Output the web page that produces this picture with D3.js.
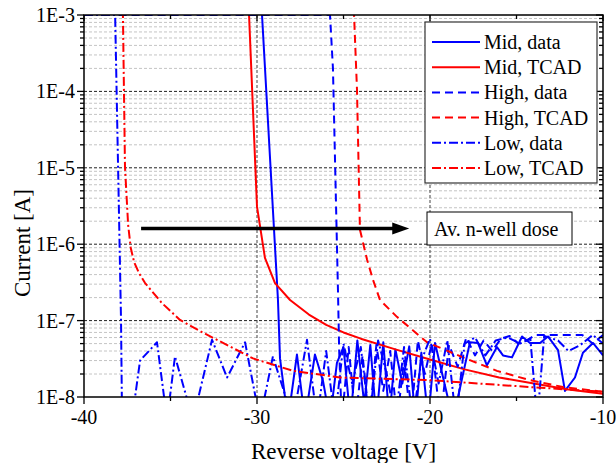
<!DOCTYPE html>
<html><head><meta charset="utf-8">
<script src="https://cdn.jsdelivr.net/npm/d3@7"></script>
<style>body{margin:0;background:#fff}svg{display:block}</style>
</head><body>
<svg id="c" width="616" height="463" font-family="'Liberation Serif', 'Times New Roman', Times, serif"></svg>
<script>
// ---- data ----
const midDataV = [-29.9,-29.71,-28.79,-28.67,-28.21,-27.69,-27.23,-26.65,-26.18,-25.78,-25.38,-25.0,-24.6,-24.2,-23.8,-23.45,-23.1,-22.7,-22.35,-22.0,-21.6,-21.2,-20.85,-20.5,-20.1,-19.71,-18.67,-17.69,-17.23,-16.71,-16.13,-15.78,-15.26,-14.68,-14.22,-13.64,-13.18,-12.6,-12.2,-11.62,-11.16,-10.58,-10.0];
const midDataI = [2e-3,1e-3,1.9e-7,3.2e-8,5e-9,3.6e-8,5e-9,3.6e-8,1.6e-8,5e-9,2.8e-8,4.5e-8,5e-9,5.5e-8,8e-9,4.8e-8,5e-9,5.2e-8,5e-9,4.2e-8,1.5e-8,4.6e-8,5e-9,3.8e-8,5e-9,5.1e-8,5e-9,5.2e-8,5.1e-8,2.6e-8,4.5e-8,3.5e-8,3.3e-8,6.2e-8,5.1e-8,5.1e-8,6.2e-8,4.1e-8,1.2e-8,1.8e-8,3.8e-8,5.1e-8,3.5e-8];

const midTcadV = [-30.5,-30.46,-30.0,-29.54,-28.96,-28.09,-27.0,-26.0,-25.0,-24.0,-22.0,-20.0,-18.0,-16.0,-14.0,-12.0,-10.0];
const midTcadI = [1.2e-3,1e-3,3.1e-6,6.6e-7,3.1e-7,1.86e-7,1.2e-7,8.8e-8,7e-8,5.8e-8,4.2e-8,3.1e-8,2.3e-8,1.8e-8,1.5e-8,1.25e-8,1.1e-8];

const highDataV = [-38,-25.78,-25.61,-25.32,-25.25,-25.1,-24.7,-24.3,-23.9,-23.5,-23.1,-22.7,-22.3,-21.9,-21.5,-21.1,-20.7,-20.3,-19.9,-19.4,-18.9,-18.4,-17.9,-17.4,-16.9,-16.4,-15.9,-15.4,-14.9,-14.4,-13.9,-13.2,-12.5,-11.8,-11.2,-10.6,-10.0];
const highDataI = [1e-3,1e-3,2e-4,2.5e-7,4e-8,5e-9,4.5e-8,5e-9,3.5e-8,5e-9,4.8e-8,1.2e-8,4e-8,5e-9,3e-8,5e-9,5.5e-8,2e-8,5e-8,5e-9,4.8e-8,2.5e-8,6e-8,3.5e-8,5.5e-8,4e-8,5.8e-8,6.3e-8,5e-8,5.5e-8,6.5e-8,6.5e-8,6.5e-8,6.5e-8,6.5e-8,5e-8,6.5e-8];

const highTcadV = [-24.45,-24.39,-24.22,-24.05,-23.64,-23.29,-22.89,-21.91,-20.17,-18.09,-16.13,-14.22,-12.31,-10.0];
const highTcadI = [1.2e-3,1e-3,1.05e-4,1.55e-6,6.3e-7,3.4e-7,1.86e-7,1.12e-7,5.2e-8,3.3e-8,2.2e-8,1.66e-8,1.35e-8,1.17e-8];

const lowDataV = [-40,-38.2,-37.86,-37.8,-37.23,-36.76,-35.78,-35.2,-34.74,-33.7,-32.6,-31.73,-30.69,-29.83,-29.08,-27.92,-27.11,-26.53,-26.0,-25.5,-25.0,-24.5,-24.0,-23.5,-23.0,-22.5,-22.0,-21.5,-21.0,-20.5,-20.0,-19.5,-19.0,-18.5,-18.0,-17.4,-16.8,-16.2,-15.5,-14.8,-14.2,-13.8,-13.4,-12.6,-12.0,-11.3,-10.6,-10.0];
const lowDataI = [1e-3,1e-3,1.02e-7,5e-9,5e-9,3e-8,5.2e-8,5e-9,3.4e-8,5e-9,5.6e-8,1.8e-8,5.2e-8,5e-9,3.4e-8,5e-9,5.6e-8,5e-9,4e-8,5e-9,5e-8,1.5e-8,4.5e-8,5e-9,5.5e-8,2e-8,5e-9,4.5e-8,5e-9,3e-8,5.8e-8,1.5e-8,5.5e-8,5e-9,5e-8,6e-8,3.5e-8,5.5e-8,6e-8,5e-8,5.8e-8,5e-9,6.3e-8,5.5e-8,4e-8,4.8e-8,6.5e-8,5e-8];

const lowTcadV = [-37.8,-37.75,-37.63,-37.45,-37.3,-37.1,-36.8,-36.47,-35.5,-34.45,-33.3,-32.31,-30.23,-27.92,-25.2,-20.0,-14.22,-10.0];
const lowTcadI = [1.2e-3,1e-3,1.02e-5,1.8e-6,9e-7,5.8e-7,4.1e-7,3.1e-7,1.7e-7,1.02e-7,7.3e-8,5.6e-8,3.2e-8,2.2e-8,1.8e-8,1.66e-8,1.35e-8,1.17e-8];

const seriesNames = ["Mid, data","Mid, TCAD","High, data","High, TCAD","Low, data","Low, TCAD"];
const xTicks = [-40,-30,-20,-10];
const xMinorTicks = [-35,-25,-15];
const yTicks = [1e-3,1e-4,1e-5,1e-6,1e-7,1e-8];
const xLabel = "Reverse voltage [V]";
const yLabel = "Current [A]";
const annotationText = "Av. n-well dose";
const arrowV = [-36.7,-21.2];
const arrowI = 1.6e-6;

// ---- layout ----
const L=84,R=603,T=15,B=397;
const x=d3.scaleLinear().domain([-40,-10]).range([L,R]);
const y=d3.scaleLog().domain([1e-8,1e-3]).range([B,T]);
const svg=d3.select("#c");
const BLUE="#0000ff", RED="#ff0000";
const styles=[
 {c:BLUE,d:null},{c:RED,d:null},{c:BLUE,d:"8,5"},{c:RED,d:"8,5"},{c:BLUE,d:"9,3,2,3"},{c:RED,d:"9,3,2,3"}];
const series=[[midDataV,midDataI],[midTcadV,midTcadI],[highDataV,highDataI],[highTcadV,highTcadI],[lowDataV,lowDataI],[lowTcadV,lowTcadI]];

svg.append("defs").append("clipPath").attr("id","clip").append("rect")
 .attr("x",L).attr("y",T).attr("width",R-L).attr("height",B-T);

// minor grid
const minors=[];
for(let e=-8;e<-3;e++){for(let m=2;m<=9;m++)minors.push(m*Math.pow(10,e));}
const g=svg.append("g");
g.selectAll(".mg").data(minors).join("line").attr("x1",L).attr("x2",R)
 .attr("y1",d=>y(d)).attr("y2",d=>y(d)).attr("stroke","#c4c4c4").attr("stroke-width",1).attr("stroke-dasharray","3,2");
g.selectAll(".Mg").data(yTicks.slice(1,5)).join("line").attr("x1",L).attr("x2",R)
 .attr("y1",d=>y(d)).attr("y2",d=>y(d)).attr("stroke","#222").attr("stroke-width",1).attr("stroke-dasharray","3,2");
g.selectAll(".Vg").data([-30,-20]).join("line").attr("y1",T).attr("y2",B)
 .attr("x1",d=>x(d)).attr("x2",d=>x(d)).attr("stroke","#444").attr("stroke-width",1).attr("stroke-dasharray","3,2");

// curves
const line=d3.line().x(d=>x(d[0])).y(d=>y(d[1]));
const cg=svg.append("g").attr("clip-path","url(#clip)");
series.forEach((s,i)=>{
 const pts=s[0].map((v,k)=>[v,s[1][k]]);
 cg.append("path").attr("d",line(pts)).attr("fill","none").attr("stroke",styles[i].c)
  .attr("stroke-width",2).attr("stroke-dasharray",styles[i].d).attr("stroke-linejoin","round");
});

// axes frame
svg.append("rect").attr("x",L).attr("y",T).attr("width",R-L).attr("height",B-T).attr("fill","none").attr("stroke","#000").attr("stroke-width",1.5);
const ax=svg.append("g").attr("stroke","#000").attr("stroke-width",1.3);
xTicks.forEach(v=>{ax.append("line").attr("x1",x(v)).attr("x2",x(v)).attr("y1",B).attr("y2",B+7);
 ax.append("line").attr("x1",x(v)).attr("x2",x(v)).attr("y1",T).attr("y2",T+6);});
xMinorTicks.forEach(v=>{ax.append("line").attr("x1",x(v)).attr("x2",x(v)).attr("y1",B).attr("y2",B+4);
 ax.append("line").attr("x1",x(v)).attr("x2",x(v)).attr("y1",T).attr("y2",T+4);});
yTicks.forEach(v=>{ax.append("line").attr("x1",L-7).attr("x2",L).attr("y1",y(v)).attr("y2",y(v));
 ax.append("line").attr("x1",R-7).attr("x2",R).attr("y1",y(v)).attr("y2",y(v));});
minors.forEach(v=>{ax.append("line").attr("x1",L-4).attr("x2",L).attr("y1",y(v)).attr("y2",y(v));
 ax.append("line").attr("x1",R-4).attr("x2",R).attr("y1",y(v)).attr("y2",y(v));});

const FF="Liberation Serif";
svg.append("g").selectAll("text").data(xTicks).join("text").attr("x",d=>x(d)).attr("y",B+27)
 .attr("font-family",FF).attr("text-anchor","middle").attr("font-size",20).text(d=>d);
svg.append("g").selectAll("text").data(yTicks).join("text").attr("x",L-9).attr("y",d=>y(d)+7)
 .attr("font-family",FF).attr("text-anchor","end").attr("font-size",20).text(d=>"1E"+Math.round(Math.log10(d)));
svg.append("text").attr("x",(L+R)/2).attr("y",459).attr("font-family",FF).attr("text-anchor","middle").attr("font-size",23).text(xLabel);
svg.append("text").attr("transform","translate(30,243) rotate(-90)").attr("font-family",FF).attr("text-anchor","middle").attr("font-size",23).text(yLabel);

// arrow annotation
const ay=y(arrowI), ax0=x(arrowV[0]), ax1=x(arrowV[1]);
svg.append("line").attr("x1",ax0).attr("x2",ax1-14).attr("y1",ay).attr("y2",ay).attr("stroke","#000").attr("stroke-width",3.5);
svg.append("path").attr("d",`M${ax1-17},${ay-6}L${ax1},${ay}L${ax1-17},${ay+6}Z`).attr("fill","#000");
svg.append("rect").attr("x",427).attr("y",212).attr("width",145).attr("height",33).attr("fill","#fff").attr("stroke","#000").attr("stroke-width",1);
svg.append("text").attr("x",434).attr("y",236).attr("font-family",FF).attr("font-size",20).text(annotationText);

// legend
svg.append("rect").attr("x",425).attr("y",22).attr("width",172).attr("height",161).attr("fill","#fff").attr("stroke","#333").attr("stroke-width",1.2);
seriesNames.forEach((n,i)=>{
 const yy=42+i*25.2;
 svg.append("line").attr("x1",432).attr("x2",480).attr("y1",yy).attr("y2",yy).attr("stroke",styles[i].c).attr("stroke-width",2).attr("stroke-dasharray",styles[i].d);
 svg.append("text").attr("x",484).attr("y",yy+7).attr("font-family",FF).attr("font-size",20).text(n);
});
</script>
</body></html>
